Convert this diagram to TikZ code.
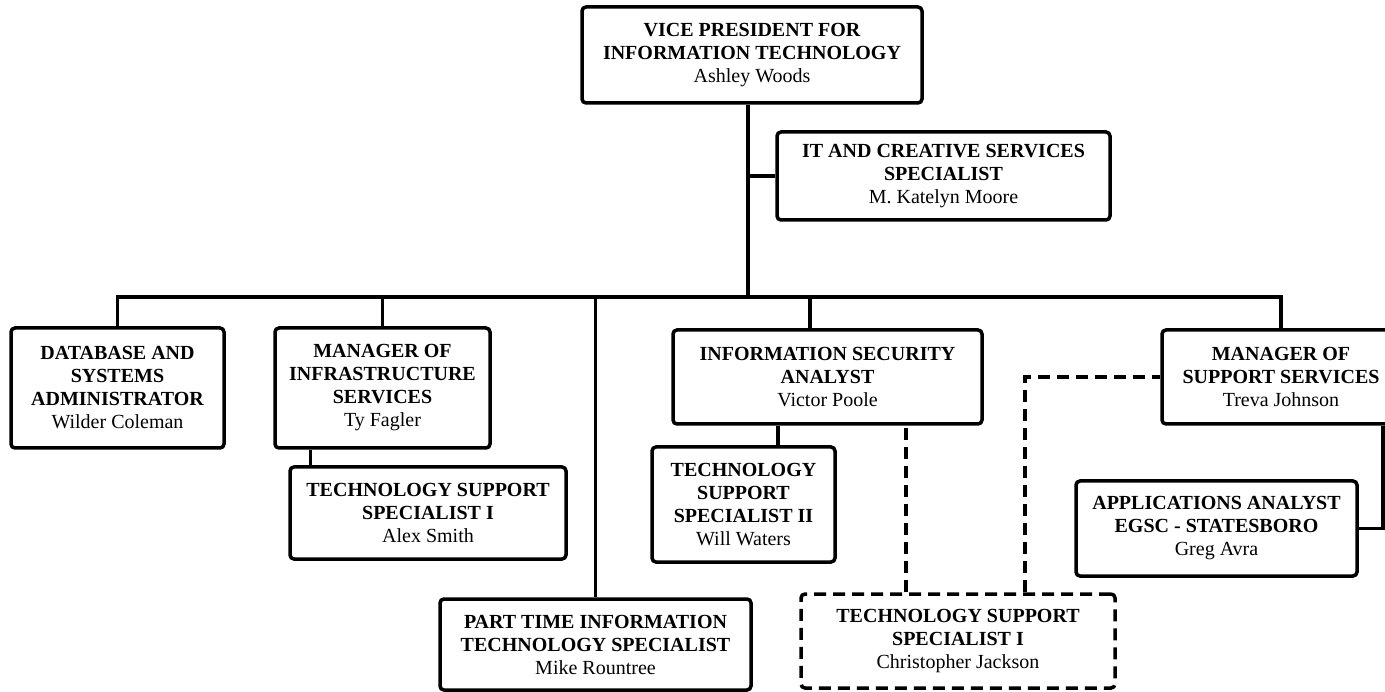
\documentclass[tikz,border=0pt]{standalone}
\usepackage{fontspec}
\setmainfont{Liberation Serif}
\tikzset{
  role/.style={draw,black,line width=3.5pt,rounded corners=4pt,align=center,inner sep=0pt,
    font=\fontsize{20}{23}\selectfont\bfseries},
  interim/.style={role,dash pattern=on 12pt off 7pt},
  link/.style={black,line width=3.5pt},
  dotlink/.style={link,dash pattern=on 12pt off 7pt}
}
\newcommand{\orgpos}[2]{#1\\\mdseries #2}
\begin{document}
\begin{tikzpicture}[x=1pt,y=-1pt]
      \useasboundingbox (0,0) rectangle (1385,692);

      \node[role,minimum width=340pt,minimum height=96pt] (vp) at (752,55) {\orgpos{VICE PRESIDENT FOR\\INFORMATION TECHNOLOGY}{Ashley Woods}};
      \node[role,minimum width=333pt,minimum height=88pt] (itcs) at (943.5,176) {\orgpos{IT AND CREATIVE SERVICES\\SPECIALIST}{M. Katelyn Moore}};

      \node[role,minimum width=213pt,minimum height=120pt] (dbsa) at (117.5,388) {\orgpos{DATABASE AND\\SYSTEMS\\ADMINISTRATOR}{Wilder Coleman}};
      \node[role,minimum width=215pt,minimum height=120pt] (mis) at (382.5,388) {\orgpos{MANAGER OF\\INFRASTRUCTURE\\SERVICES}{Ty Fagler}};
      \node[role,minimum width=276pt,minimum height=92pt] (tssa) at (428,513) {\orgpos{TECHNOLOGY SUPPORT\\SPECIALIST I}{Alex Smith}};
      \node[role,minimum width=311pt,minimum height=91pt] (ptit) at (595.5,644.5) {\orgpos{PART TIME INFORMATION\\TECHNOLOGY SPECIALIST}{Mike Rountree}};
      \node[role,minimum width=309pt,minimum height=94pt] (isa) at (827.5,377) {\orgpos{INFORMATION SECURITY\\ANALYST}{Victor Poole}};
      \node[role,minimum width=183pt,minimum height=115pt] (tssw) at (743.5,504.5) {\orgpos{TECHNOLOGY\\SUPPORT\\SPECIALIST II}{Will Waters}};
      \node[interim,minimum width=314pt,minimum height=94pt] (tssc) at (958,641) {\orgpos{TECHNOLOGY SUPPORT\\SPECIALIST I}{Christopher Jackson}};
      \node[role,minimum width=238pt,minimum height=94pt] (mss) at (1281,377) {\orgpos{MANAGER OF\\SUPPORT SERVICES}{Treva Johnson}};
      \node[role,minimum width=281pt,minimum height=95pt] (apa) at (1216.5,528.5) {\orgpos{APPLICATIONS ANALYST\\EGSC - STATESBORO}{Greg Avra}};

      % main trunk and bus
      \coordinate (bus) at (748,297);
      \draw[link] (bus |- vp.south) -- (bus);
      \draw[link] (bus |- itcs.west) -- (itcs.west);
      \draw[link] (dbsa.north) |- (mss.north |- bus) -- (mss.north);
      \foreach \n in {mis,ptit}
        \draw[link] (\n.north |- bus) -- (\n.north);
      \draw[link] ([xshift=-17.5pt]isa.north |- bus) -- ([xshift=-17.5pt]isa.north);

      % reports below managers
      \draw[link] ([xshift=22pt]tssa.north west) -- ([xshift=22pt]tssa.north west |- mis.south);
      \draw[link] ([xshift=34.5pt]tssw.north) -- ([xshift=34.5pt]tssw.north |- isa.south);
      \draw[link] ([xshift=102pt]mss.south) |- (apa.east);

      % shared position
      \draw[dotlink] ([xshift=-52pt]tssc.north) -- ([xshift=-52pt]tssc.north |- isa.south);
      \draw[dotlink] ([xshift=67pt]tssc.north) |- (mss.west);
\end{tikzpicture}
\end{document}
